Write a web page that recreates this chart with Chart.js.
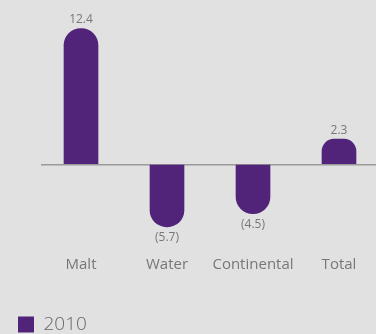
<!DOCTYPE html>
<html lang="en">
<head>
<meta charset="UTF-8">
<title>Volume change</title>
<script src="https://cdn.jsdelivr.net/npm/chart.js"></script>
<style>
    html, body {
        margin: 0;
        padding: 0;
        background: #e1e1e1;
    }

    .chart-box {
        width: 376px;
        height: 334px;
    }
</style>
</head>
<body>
<div class="chart-box">
    <canvas id="volumeChart"></canvas>
</div>
<script>
    const categories = ["Malt", "Water", "Continental", "Total"];
    const values2010 = [12.4, -5.7, -4.5, 2.3];
    const seriesLabel = "2010";

    // negatives shown in brackets, accounting style
    function formatValue(v) {
        return v < 0 ? "(" + Math.abs(v).toFixed(1) + ")" : v.toFixed(1);
    }

    // value text above positive bars, below negative ones
    const valueLabels = {
        id: "valueLabels",
        afterDatasetsDraw(chart) {
            const ctx = chart.ctx;
            const meta = chart.getDatasetMeta(0);
            const data = chart.data.datasets[0].data;
            ctx.save();
            ctx.font = "12px 'Open Sans'";
            ctx.fillStyle = "#777";
            ctx.textAlign = "center";
            ctx.textBaseline = "alphabetic";
            meta.data.forEach((bar, i) => {
                const v = data[i];
                const y = v >= 0 ? bar.y - 5 : bar.y + 14.5;
                ctx.fillText(formatValue(v), bar.x, y);
            });
            ctx.restore();
        }
    };

    // only the zero line is drawn; tick marks carry it past the plot edges
    const zeroLine = {
        drawTicks: true,
        lineWidth: 1.5,
        color: c => c.tick.value === 0 ? "#9a9a9a" : "transparent"
    };

    new Chart(document.getElementById("volumeChart"), {
        type: "bar",
        data: {
            labels: categories,
            datasets: [{
                label: seriesLabel,
                data: values2010,
                backgroundColor: "#51247a",
                borderRadius: 17,
                borderSkipped: "start",
                barThickness: 34,
                clip: false
            }]
        },
        options: {
            responsive: true,
            maintainAspectRatio: false,
            animation: false,
            layout: {
                padding: { left: 8, right: 0, top: 0, bottom: -10 }
            },
            plugins: {
                legend: {
                    position: "bottom",
                    align: "start",
                    labels: {
                        boxWidth: 16,
                        boxHeight: 16,
                        padding: 10,
                        color: "#666",
                        font: { family: "'Open Sans'", size: 19, weight: 300 }
                    }
                },
                tooltip: { enabled: false }
            },
            scales: {
                x: {
                    offset: false,
                    afterFit(scale) {
                        scale.height = 53;
                    },
                    grid: { display: false, drawTicks: false },
                    border: { display: false },
                    ticks: {
                        color: "#777",
                        padding: 4,
                        autoSkip: false,
                        maxRotation: 0,
                        font: { family: "'Open Sans'", size: 15 }
                    }
                },
                y: {
                    min: -8,
                    max: 15,
                    afterFit(scale) {
                        scale.width = 73;
                    },
                    border: { display: false },
                    ticks: { display: false, stepSize: 1 },
                    grid: Object.assign({ tickLength: 40 }, zeroLine)
                },
                y2: {
                    position: "right",
                    min: -8,
                    max: 15,
                    afterFit(scale) {
                        scale.width = 37;
                    },
                    border: { display: false },
                    ticks: { display: false, stepSize: 1 },
                    grid: Object.assign({ tickLength: 37, drawOnChartArea: false }, zeroLine)
                }
            }
        },
        plugins: [valueLabels]
    });
</script>
</body>
</html>
